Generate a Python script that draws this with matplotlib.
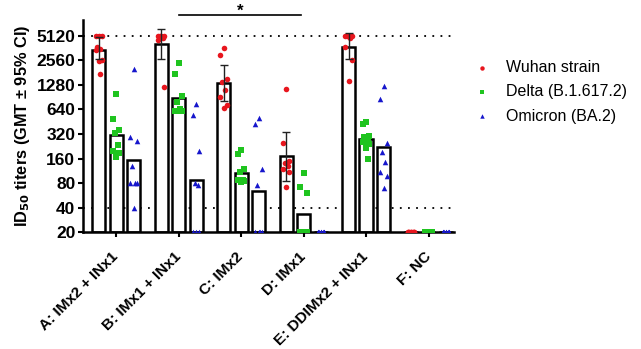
import matplotlib.pyplot as plt
import numpy as np
from matplotlib.transforms import ScaledTranslation

plt.rcParams['font.family'] = ['Liberation Sans', 'DejaVu Sans']

groups = ["A: IMx2 + INx1", "B: IMx1 + INx1", "C: IMx2", "D: IMx1",
          "E: DDIMx2 + INx1", "F: NC"]
strains = ["Wuhan strain", "Delta (B.1.617.2)", "Omicron (BA.2)"]

# geometric mean titers (bar heights)
gmt_wuhan = [3450, 4100, 1360, 171, 3780, 20]
gmt_delta = [310, 894, 107, 33, 275, 20]
gmt_omicron = [155, 88, 64, 20, 224, 20]

# 95% CI for Wuhan strain
ci_low_wuhan = [2700, 2680, 805, 85, 2700]
ci_high_wuhan = [4950, 6260, 2230, 343, 5500]

# individual animal titers
pts_wuhan = [
    [5120, 5120, 5120, 3700, 3500, 3400, 2600, 2500, 1750],
    [5120, 5120, 5120, 5120, 4800, 4600, 1200],
    [3600, 3000, 1500, 1400, 1100, 900, 720, 670],
    [1150, 245, 150, 140, 130, 120, 110, 72],
    [5120, 5120, 5120, 5120, 4800, 3700, 2560, 1450],
    [20, 20, 20, 20, 20, 20, 20, 20],
]
pts_delta = [
    [1000, 485, 360, 330, 235, 200, 185, 165],
    [2400, 1750, 930, 780, 640, 620, 620, 610],
    [205, 180, 118, 108, 88, 86, 84, 82],
    [105, 72, 60, 20, 20, 20, 20, 20],
    [445, 430, 300, 295, 270, 255, 240, 215, 160],
    [20, 20, 20, 20, 20, 20, 20, 20],
]
pts_omicron = [
    [2000, 290, 260, 130, 80, 80, 80, 40],
    [750, 540, 200, 80, 75, 20, 20, 20],
    [500, 430, 120, 76, 20, 20, 20, 20],
    [20, 20, 20, 20, 20, 20, 20, 20],
    [1240, 850, 245, 190, 145, 110, 98, 70],
    [20, 20, 20, 20, 20, 20, 20, 20],
]

yticks = [20, 40, 80, 160, 320, 640, 1280, 2560, 5120]

colors = ['#e8161e', '#1fc41f', '#1616cc']
markers = ['o', 's', '^']

fig = plt.figure(figsize=(6.41, 3.49), dpi=100)
ax = fig.add_axes([0.1295, 0.335, 0.578, 0.608])

x = np.arange(len(groups))
offs = [-0.28, 0.0, 0.28]
width = 0.21
jit = np.array([0, -1, 1, -0.5, 0.5, -1, 1, 0, 0.5]) * 0.05

gmts = [gmt_wuhan, gmt_delta, gmt_omicron]
pts = [pts_wuhan, pts_delta, pts_omicron]

for k in range(3):
    heights = np.array(gmts[k]) - 20
    ax.bar(x + offs[k], heights, width=width, bottom=20, color='white',
           edgecolor='black', linewidth=1.8, zorder=2)
    for g in range(len(groups)):
        vals = pts[k][g]
        xs = x[g] + offs[k] + jit[:len(vals)]
        ax.scatter(xs, vals, s=16, marker=markers[k], color=colors[k],
                   linewidths=0, zorder=3,
                   label=strains[k] if g == 0 else None)

# error bars (Wuhan only)
xe = x[:5] + offs[0]
ge = np.array(gmt_wuhan[:5])
ax.errorbar(xe, ge, yerr=[ge - np.array(ci_low_wuhan), np.array(ci_high_wuhan) - ge],
            fmt='none', ecolor='#222222', elinewidth=1.0, capsize=3,
            capthick=1.0, zorder=4)

ax.axhline(5120, color='black', linestyle=(0, (1, 3.5)), linewidth=1.3, zorder=1)
ax.axhline(40, color='black', linestyle=(0, (1, 3.5)), linewidth=1.3, zorder=1)

ax.set_yscale('log', base=2)
ax.set_ylim(20, 8050)
ax.set_xlim(-0.53, 5.4)
ax.set_yticks(yticks)
ax.set_yticklabels([str(v) for v in yticks], fontsize=12.5, fontweight='bold')
ax.yaxis.set_minor_locator(plt.NullLocator())
ax.set_xticks(x)
ax.set_xticklabels(groups, rotation=45, ha='right', rotation_mode='anchor',
                   fontsize=11.1, fontweight='bold')
ax.tick_params(axis='both', direction='out', length=3.5, width=1.5)
ax.tick_params(axis='y', pad=2)
ax.tick_params(axis='x', pad=9)
shift = ScaledTranslation(-3.5 / 72, 0, fig.dpi_scale_trans)
for lab in ax.get_xticklabels():
    lab.set_transform(lab.get_transform() + shift)
ax.set_ylabel('ID$_{\\mathbf{50}}$ titers (GMT ± 95% CI)', fontsize=11.8,
              fontweight='bold', labelpad=3)

for s in ['top', 'right']:
    ax.spines[s].set_visible(False)
for s in ['left', 'bottom']:
    ax.spines[s].set_linewidth(1.8)

# significance bracket B vs D
ax.plot([1.0, 2.96], [9300, 9300], color='black', linewidth=1.2, clip_on=False)
ax.text(1.98, 8960, '*', ha='center', va='baseline', fontsize=12,
        fontweight='bold')

leg = ax.legend(loc='upper left', bbox_to_anchor=(0.739, 0.828),
                bbox_transform=fig.transFigure, frameon=False, fontsize=11.5,
                markerscale=0.8, borderpad=0, borderaxespad=0,
                handlelength=1.0, handletextpad=1.0, labelspacing=0.58)

fig.savefig('out.png', dpi=100)
